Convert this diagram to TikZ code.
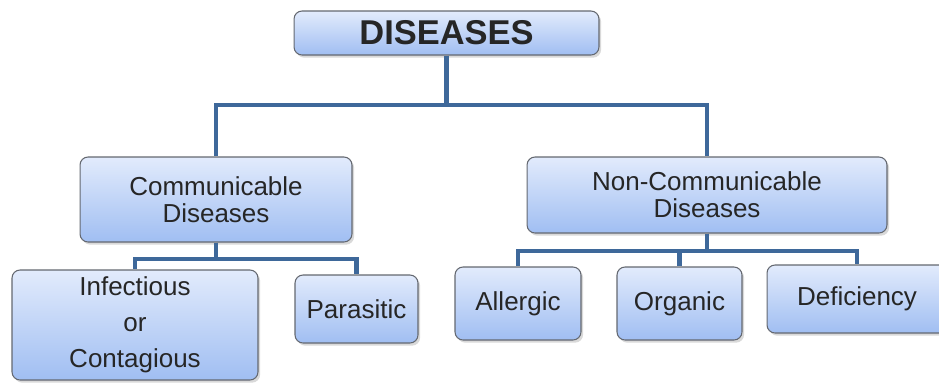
\documentclass[tikz,border=0pt]{standalone}
\usepackage{fontspec}
\setmainfont{Liberation Sans}
\usetikzlibrary{shadows}
\definecolor{boxtop}{RGB}{226,235,252}
\definecolor{boxbot}{RGB}{160,190,242}
\definecolor{boxline}{RGB}{100,104,112}
\definecolor{linkblue}{RGB}{62,104,154}
\begin{document}
\begin{tikzpicture}[x=0.02cm, y=-0.02cm, line join=miter,
    box/.style={draw=boxline, line width=0.6pt, rounded corners=0.16cm,
      top color=boxtop, bottom color=boxbot, text=black!85, align=center,
      inner sep=0pt, font=\fontsize{14.8pt}{15.5pt}\selectfont,
      drop shadow={shadow xshift=1.2pt, shadow yshift=-1.5pt, opacity=0.3}},
    link/.style={draw=linkblue, line width=2.3pt}]
  \useasboundingbox (0,0) rectangle (939,383);
  % top level
  \node[box, minimum width=6.1cm, minimum height=0.88cm,
    font=\fontsize{19.6pt}{20pt}\selectfont\bfseries] (dis) at (446.5,33) {DISEASES};
  \node[box, minimum width=5.44cm, minimum height=1.7cm] (comm) at (216,199.5) {Communicable\\Diseases};
  \node[box, minimum width=7.2cm, minimum height=1.52cm] (ncomm) at (707,195) {Non-Communicable\\Diseases};
  % children of communicable
  \node[box, minimum width=4.92cm, minimum height=2.2cm] (inf) at (135,325) {Infectious\\[5pt]or\\[5pt]Contagious};
  \node[box, minimum width=2.46cm, minimum height=1.36cm] (para) at (356.5,309) {Parasitic};
  % children of non-communicable
  \node[box, minimum width=2.52cm, minimum height=1.46cm] (allg) at (518,303.5) {Allergic};
  \node[box, minimum width=2.5cm, minimum height=1.46cm] (org) at (679.5,303.5) {Organic};
  \node[box, minimum width=3.6cm, minimum height=1.36cm] (defi) at (857,299) {Deficiency};
  % connectors
  \foreach \c in {comm,ncomm} \draw[link] (dis.south) -- ++(0,49) -| (\c.north);
  \foreach \c in {inf,para} \draw[link] (comm.south) -- ++(0,16) -| (\c.north);
  \foreach \c in {allg,org,defi} \draw[link] (ncomm.south) -- ++(0,17) -| (\c.north);
\end{tikzpicture}
\end{document}
